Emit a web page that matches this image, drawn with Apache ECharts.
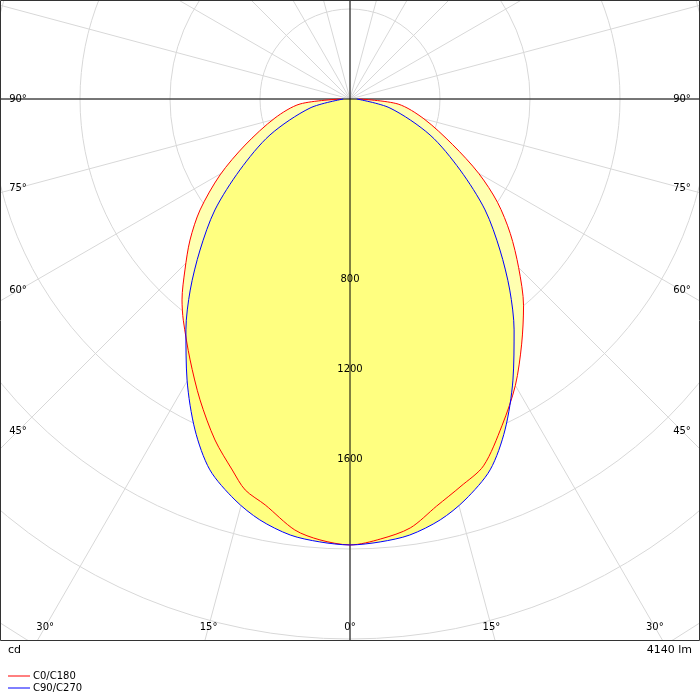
<!DOCTYPE html>
<html><head><meta charset="utf-8">
<script src="https://cdn.jsdelivr.net/npm/echarts@6/dist/echarts.min.js"></script>
<style>html,body{margin:0;padding:0;background:#fff}#c{width:700px;height:700px}</style>
</head><body><div id="c"></div>
<script>
// gamma angles (deg) and intensities (cd)
const redGammaL = [0,3.9,7.3,11.8,15,17.6,21.6,26.5,31.5,37,39.9,44,48.6,53.5,59.7,66.3,75.8,84.3,90];
const redCdL    = [1982,1964,1931,1843,1799,1730,1630,1494,1360,1231,1164,1056,948,829,669,509,344,223,40];
const redGammaR = [0,4,8,12,16,20,25,30,35,40,45,50,55,60,66,75,84,90];
const redCdR    = [1982,1960,1925,1850,1790,1735,1600,1470,1330,1200,1060,930,800,660,500,340,215,40];
const blueGamma = [0,3.9,7.8,12.1,16,20.7,25.1,30.1,35.4,39.9,44.8,50.6,57.2,65.8,77.3,90];
const blueCd    = [1982,1973,1956,1913,1854,1762,1624,1444,1259,1107,946,777,582,390,182,30];
const angleLabels = [90,75,60,45,30,15,0];
const radialLabels = [800,1200,1600];
const legendNames = ['C0/C180','C90/C270'];

const CX=350, CY=99, RMAX=3200, RPX=720;
function fullCurve(gL,cL,gR,cR){
  const d=[];
  for(let i=gR.length-1;i>=0;i--) d.push([cR[i], gR[i]===0?0:360-gR[i]]);
  for(let i=0;i<gL.length;i++) d.push([cL[i], gL[i]]);
  return d;
}
const redData = fullCurve(redGammaL,redCdL,redGammaR,redCdR);
const blueData = fullCurve(blueGamma,blueCd,blueGamma,blueCd);

const chart = echarts.init(document.getElementById('c'));
const graphics = [];
const ff='DejaVu Sans, sans-serif';
angleLabels.forEach(g=>{
  const s=Math.sin(g*Math.PI/180), c=Math.cos(g*Math.PI/180);
  [-1,1].forEach(side=>{
    if(g===0 && side===1) return;
    const tSide = s>1e-6 ? 332/s : Infinity;
    const tBot = c>1e-6 ? (627-CY)/c : Infinity;
    const t=Math.min(tSide,tBot);
    let x=CX+side*s*t, y=CY+c*t;
    if(t===tSide){ y = Math.min(y,626); }
    graphics.push({type:'text',x:x,y:y,z:100,style:{text:g+'°',font:'10px '+ff,fill:'#000',align:'center',verticalAlign:'middle'}});
  });
});
radialLabels.forEach(v=>{
  graphics.push({type:'text',x:CX,y:CY+v/RMAX*RPX,z:100,style:{text:String(v),font:'10px '+ff,fill:'#000',align:'center',verticalAlign:'middle'}});
});
graphics.push({type:'rect',shape:{x:0,y:641,width:700,height:59},z:90,style:{fill:'#fff'}});
graphics.push({type:'rect',shape:{x:0.5,y:0.5,width:699,height:640},z:95,style:{fill:null,stroke:'#333',lineWidth:1}});
graphics.push({type:'text',x:8,y:650,z:100,style:{text:'cd',font:'11px '+ff,fill:'#000',verticalAlign:'middle'}});
graphics.push({type:'text',x:692,y:650,z:100,style:{text:'4140 lm',font:'11px '+ff,fill:'#000',align:'right',verticalAlign:'middle'}});
['#ff0000','#0000ff'].forEach((col,i)=>{
  const y=676+i*12;
  graphics.push({type:'line',shape:{x1:8,y1:y,x2:30,y2:y},z:100,style:{stroke:col,lineWidth:1}});
  graphics.push({type:'text',x:33,y:y,z:100,style:{text:legendNames[i],font:'10px '+ff,fill:'#000',verticalAlign:'middle'}});
});

chart.setOption({
  animation:false,
  polar:{center:[CX,CY],radius:RPX},
  angleAxis:{type:'value',min:0,max:360,interval:15,startAngle:270,clockwise:true,
    axisLine:{show:false},axisTick:{show:false},axisLabel:{show:false},
    splitLine:{lineStyle:{color:'#d8d8d8',width:1}}},
  radiusAxis:{type:'value',min:0,max:RMAX,interval:400,
    axisLine:{show:false},axisTick:{show:false},axisLabel:{show:false},
    splitLine:{lineStyle:{color:'#d8d8d8',width:1}}},
  series:[
    {type:'line',coordinateSystem:'polar',data:redData,symbol:'none',smooth:0.3,lineStyle:{width:0},areaStyle:{color:'#ffffb0',opacity:1},z:2},
    {type:'line',coordinateSystem:'polar',data:blueData,symbol:'none',smooth:0.3,lineStyle:{width:0},areaStyle:{color:'#ffff80',opacity:1},z:3},
    {type:'line',coordinateSystem:'polar',data:[[RMAX,90],[0,0],[RMAX,270]],symbol:'none',lineStyle:{color:'#000',width:1},z:4},
    {type:'line',coordinateSystem:'polar',data:[[RMAX,0],[0,0],[RMAX,180]],symbol:'none',lineStyle:{color:'#000',width:1},z:4},
    {type:'line',coordinateSystem:'polar',data:redData,symbol:'none',smooth:0.3,lineStyle:{color:'#ff0000',width:1},z:5},
    {type:'line',coordinateSystem:'polar',data:blueData,symbol:'none',smooth:0.3,lineStyle:{color:'#0000ff',width:1},z:6}
  ],
  graphic:graphics
});
</script></body></html>
